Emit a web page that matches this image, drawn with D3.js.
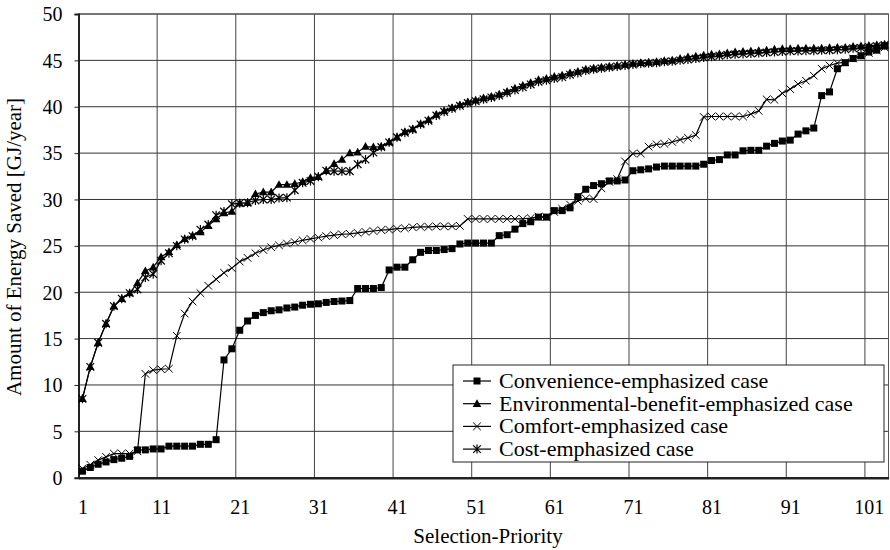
<!DOCTYPE html>
<html><head><meta charset="utf-8">
<script src="https://cdn.jsdelivr.net/npm/d3@7"></script>
<style>body{margin:0;background:#fff}svg{display:block}text{font-family:"Liberation Serif","Times New Roman",serif;fill:#000}</style>
</head><body><svg id="c" width="890" height="550"></svg>
<script>
const categories = [1,2,3,4,5,6,7,8,9,10,11,12,13,14,15,16,17,18,19,20,21,22,23,24,25,26,27,28,29,30,31,32,33,34,35,36,37,38,39,40,41,42,43,44,45,46,47,48,49,50,51,52,53,54,55,56,57,58,59,60,61,62,63,64,65,66,67,68,69,70,71,72,73,74,75,76,77,78,79,80,81,82,83,84,85,86,87,88,89,90,91,92,93,94,95,96,97,98,99,100,101,102,103];
const xTickLabels = ["1","11","21","31","41","51","61","71","81","91","101"];
const yTicks = [0,5,10,15,20,25,30,35,40,45,50];

const convenience = [0.7,1.1,1.45,1.7,1.95,2.1,2.3,3.0,3.0,3.1,3.1,3.4,3.4,3.4,3.4,3.6,3.6,4.1,12.7,13.9,15.9,16.9,17.5,17.8,18.0,18.1,18.3,18.4,18.6,18.7,18.75,18.9,19.0,19.05,19.1,20.4,20.4,20.4,20.5,22.4,22.7,22.7,23.5,24.3,24.5,24.5,24.6,24.7,25.2,25.3,25.3,25.3,25.3,26.1,26.2,26.8,27.4,27.6,28.1,28.1,28.8,28.8,29.1,30.3,31.1,31.5,31.7,32.0,32.0,32.1,33.1,33.2,33.3,33.5,33.6,33.6,33.6,33.6,33.6,33.8,34.2,34.3,34.8,34.8,35.25,35.3,35.3,35.75,36.05,36.3,36.4,37.05,37.4,37.7,41.2,41.6,44.1,44.75,45.2,45.5,45.9,46.1,46.55];
const environmental = [8.5,11.95,14.55,16.6,18.5,19.3,19.9,21.0,22.3,22.7,23.8,24.35,25.1,25.75,26.1,26.5,27.15,27.9,28.55,28.7,29.6,29.65,30.6,30.8,30.8,31.6,31.6,31.7,31.9,32.35,32.45,33.1,33.85,34.3,35.0,35.1,35.7,35.65,35.7,36.2,36.7,37.3,37.6,38.15,38.6,39.15,39.55,39.9,40.2,40.5,40.7,40.95,41.1,41.35,41.65,42.0,42.3,42.6,42.9,43.05,43.25,43.4,43.65,43.8,44.05,44.15,44.25,44.35,44.45,44.55,44.65,44.75,44.8,44.85,44.95,45.0,45.2,45.35,45.45,45.55,45.65,45.7,45.8,45.9,45.95,46.0,46.05,46.1,46.2,46.25,46.25,46.3,46.3,46.3,46.3,46.35,46.4,46.4,46.5,46.55,46.6,46.65,46.7];
const comfort = [1.0,1.4,1.9,2.25,2.6,2.6,2.6,2.85,11.2,11.6,11.7,11.75,15.3,17.7,19.0,19.9,20.7,21.4,22.1,22.6,23.3,23.7,24.2,24.55,24.85,25.05,25.25,25.4,25.6,25.75,25.9,26.05,26.15,26.25,26.3,26.4,26.5,26.6,26.7,26.75,26.85,26.9,27.0,27.05,27.05,27.1,27.1,27.1,27.15,27.9,27.9,27.9,27.9,27.9,27.9,27.9,27.9,28.0,28.15,28.1,28.65,29.0,29.45,29.85,30.1,30.05,31.2,31.9,32.2,34.1,34.95,34.95,35.7,35.95,36.0,36.2,36.45,36.65,36.95,38.9,38.95,38.95,38.95,38.95,38.95,39.2,39.55,40.8,40.75,41.45,41.9,42.45,42.8,43.35,44.1,44.45,44.7,44.8,45.2,45.55,45.8,46.1,46.4];
const cost = [8.5,11.95,14.55,16.6,18.5,19.3,19.9,20.3,21.6,21.95,23.4,24.2,25.0,25.7,26.05,26.75,27.3,28.3,28.7,29.5,29.6,29.65,29.9,30.0,30.0,30.15,30.2,31.0,31.8,32.0,32.45,33.1,33.05,33.05,33.05,33.8,34.3,35.05,35.65,36.15,36.7,37.2,37.55,38.1,38.5,39.05,39.45,39.8,40.1,40.4,40.6,40.8,41.0,41.2,41.5,41.8,42.1,42.4,42.7,42.85,43.05,43.2,43.45,43.65,43.9,44.05,44.15,44.25,44.35,44.45,44.55,44.65,44.7,44.75,44.85,44.9,45.0,45.1,45.2,45.3,45.4,45.5,45.6,45.65,45.7,45.75,45.8,45.85,45.9,45.95,46.0,46.0,46.05,46.05,46.1,46.1,46.15,46.2,46.3,46.35,46.45,46.55,46.65];

const seriesNames = ["Convenience-emphasized case","Environmental-benefit-emphasized case","Comfort-emphasized case","Cost-emphasized case"];
const seriesValues = [convenience, environmental, comfort, cost];
const markerTypes = ["square","triangle","cross","asterisk"];

const svg = d3.select("#c");
const L = 78.5, R = 888.5, T = 14, B = 477.7;
const x = d3.scaleLinear().domain([0.5, categories.length + 0.5]).range([L, R]);
const y = d3.scaleLinear().domain([0, 50]).range([B, T]);
const SERIF = '"Liberation Serif","Times New Roman",serif';

// gridlines
const g = svg.append("g");
g.selectAll("line.h").data(yTicks.filter(d => d > 0)).join("line")
  .attr("x1", L).attr("x2", R).attr("y1", d => y(d)).attr("y2", d => y(d))
  .attr("stroke", "#333").attr("stroke-width", 1);
const boundaries = xTickLabels.slice(1).map(d => +d - 0.5);
g.selectAll("line.v").data(boundaries).join("line")
  .attr("x1", d => x(d)).attr("x2", d => x(d)).attr("y1", T).attr("y2", B)
  .attr("stroke", "#444").attr("stroke-width", 1);
svg.append("rect").attr("x", L).attr("y", T).attr("width", R - L).attr("height", B - T)
  .attr("fill", "none").attr("stroke", "#555").attr("stroke-width", 1);

// y axis
const yAxis = svg.append("g").attr("transform", `translate(${L},0)`)
  .call(d3.axisLeft(y).tickValues(yTicks).tickSize(4).tickPadding(12));
yAxis.attr("font-family", null);
yAxis.select(".domain").attr("stroke", "#222").attr("stroke-width", 2);
yAxis.selectAll(".tick line").attr("stroke", "#222");
yAxis.selectAll("text").style("font-size", "20px").style("font-family", SERIF).attr("dy", "0.34em");

// x axis
const xAxis = svg.append("g").attr("transform", `translate(0,${B})`)
  .call(d3.axisBottom(x).tickValues(xTickLabels.map(Number)).tickSize(0).tickPadding(22).tickFormat((d, i) => xTickLabels[i]));
xAxis.attr("font-family", null);
xAxis.select(".domain").attr("stroke", "#222").attr("stroke-width", 2.5);
xAxis.selectAll("text").style("font-size", "20px").style("font-family", SERIF);

// axis titles
svg.append("text").attr("x", 488).attr("y", 543).attr("text-anchor", "middle")
  .style("font-size", "21px").text("Selection-Priority");
svg.append("text").attr("transform", "translate(21,247) rotate(-90)").attr("text-anchor", "middle")
  .style("font-size", "21px").text("Amount of Energy Saved [GJ/year]");

function drawMarker(sel, type, cx, cy) {
  if (type === "square") {
    sel.append("rect").attr("x", cx - 3.5).attr("y", cy - 3.5).attr("width", 7).attr("height", 7).attr("fill", "#000");
  } else if (type === "triangle") {
    sel.append("path").attr("d", `M${cx},${cy-4.5}L${cx+4.3},${cy+3.2}L${cx-4.3},${cy+3.2}Z`).attr("fill", "#000");
  } else if (type === "cross") {
    sel.append("path").attr("d", `M${cx-3.8},${cy-3.8}L${cx+3.8},${cy+3.8}M${cx-3.8},${cy+3.8}L${cx+3.8},${cy-3.8}`)
      .attr("stroke", "#000").attr("stroke-width", 1).attr("fill", "none");
  } else {
    sel.append("path").attr("d", `M${cx-3.8},${cy-3.8}L${cx+3.8},${cy+3.8}M${cx-3.8},${cy+3.8}L${cx+3.8},${cy-3.8}M${cx},${cy-4.5}L${cx},${cy+4.5}`)
      .attr("stroke", "#000").attr("stroke-width", 1.2).attr("fill", "none");
  }
}

const line = d3.line().x((d, i) => x(categories[i])).y(d => y(d));
[3, 2, 1, 0].forEach(si => {
  const vals = seriesValues[si];
  const sg = svg.append("g");
  sg.append("path").attr("d", line(vals)).attr("fill", "none").attr("stroke", "#000").attr("stroke-width", 1.2);
  vals.forEach((v, i) => drawMarker(sg, markerTypes[si], x(categories[i]), y(v)));
});

// legend
const lg = svg.append("g");
lg.append("rect").attr("x", 453).attr("y", 365).attr("width", 431).attr("height", 97)
  .attr("fill", "#fff").attr("stroke", "#222").attr("stroke-width", 1);
seriesNames.forEach((name, i) => {
  const cy = 381 + i * 22.7;
  lg.append("line").attr("x1", 463).attr("x2", 491).attr("y1", cy).attr("y2", cy).attr("stroke", "#000").attr("stroke-width", 1.2);
  drawMarker(lg, markerTypes[i], 477, cy);
  lg.append("text").attr("x", 499).attr("y", cy + 7).style("font-size", "22px").text(name);
});
</script></body></html>
